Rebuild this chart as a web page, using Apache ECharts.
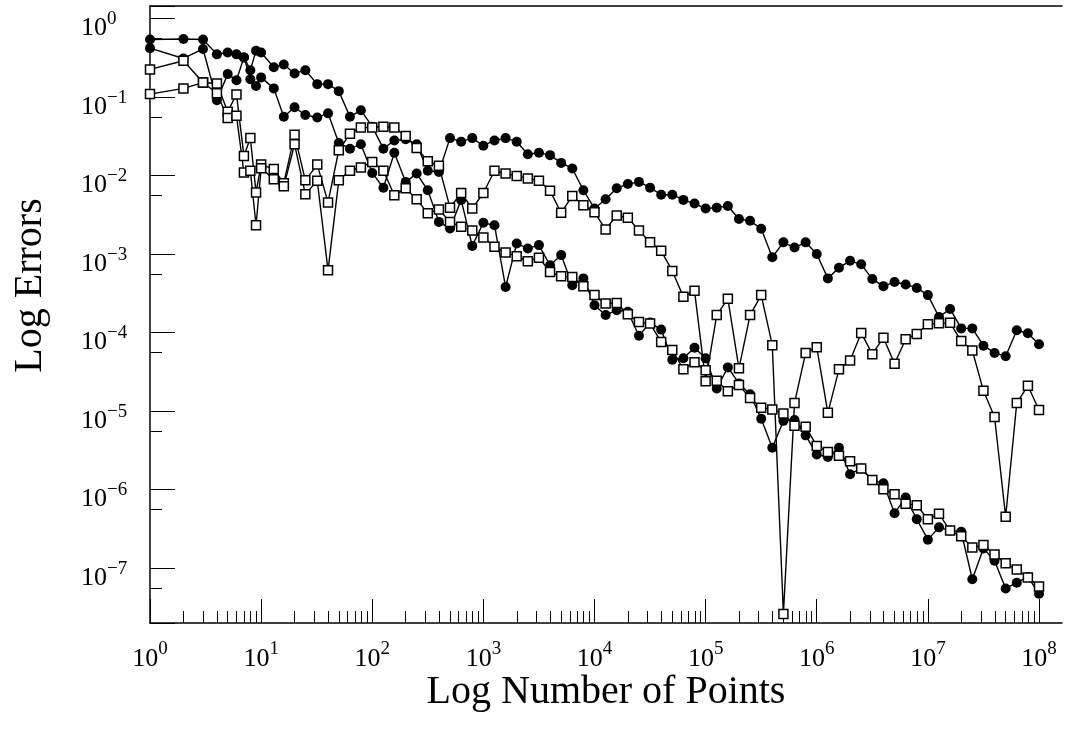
<!DOCTYPE html>
<html>
<head>
<meta charset="utf-8">
<script src="https://cdn.jsdelivr.net/npm/echarts@6/dist/echarts.min.js"></script>
<style>
  html, body { margin: 0; padding: 0; background: #fff; }
  #chart { width: 1072px; height: 740px; }
</style>
</head>
<body>
<div id="chart"></div>
<script>
// Number of points at which each error was measured
const nPoints = [1, 2, 3, 4, 5, 6, 7, 8, 9, 10,
  13, 16, 20, 25, 32, 40, 50, 63, 79, 100,
  126, 158, 200, 251, 316, 398, 501, 631, 794, 1000,
  1259, 1585, 1995, 2512, 3162, 3981, 5012, 6310, 7943, 10000,
  12589, 15849, 19953, 25119, 31623, 39811, 50119, 63096, 79433, 100000,
  125893, 158489, 199526, 251189, 316228, 398107, 501187, 630957, 794328, 1000000,
  1258925, 1584893, 1995262, 2511886, 3162278, 3981072, 5011872, 6309573, 7943282, 10000000,
  12589254, 15848932, 19952623, 25118864, 31622777, 39810717, 50118723, 63095734, 79432823, 100000000];

// Errors, filled-circle curves
const errA = [0.54, 0.55, 0.54, 0.35, 0.37, 0.35, 0.32, 0.22, 0.39, 0.37,
  0.24, 0.26, 0.20, 0.22, 0.146, 0.146, 0.119, 0.056, 0.068, 0.042,
  0.022, 0.028, 0.029, 0.025, 0.0115, 0.0111, 0.030, 0.027, 0.030, 0.024,
  0.028, 0.030, 0.027, 0.0187, 0.0195, 0.0182, 0.0145, 0.0123, 6.5e-3, 3.8e-3,
  5.0e-3, 6.9e-3, 7.8e-3, 8.3e-3, 7.0e-3, 5.7e-3, 5.7e-3, 4.9e-3, 4.4e-3, 3.8e-3,
  3.9e-3, 4.1e-3, 2.8e-3, 2.65e-3, 2.1e-3, 9.1e-4, 1.41e-3, 1.21e-3, 1.41e-3, 1.0e-3,
  4.9e-4, 6.7e-4, 8.2e-4, 7.4e-4, 4.8e-4, 3.9e-4, 4.4e-4, 4.1e-4, 3.7e-4, 3.0e-4,
  1.58e-4, 2.0e-4, 1.13e-4, 1.13e-4, 6.8e-5, 5.5e-5, 5.0e-5, 1.07e-4, 9.8e-5, 7.1e-5];

const errB = [0.42, 0.31, 0.41, 0.091, 0.196, 0.164, 0.32, 0.169, 0.138, 0.178,
  0.129, 0.056, 0.074, 0.059, 0.055, 0.062, 0.026, 0.022, 0.025, 0.0108,
  7.0e-3, 0.0195, 8.3e-3, 0.0106, 6.5e-3, 2.57e-3, 2.12e-3, 4.9e-3, 1.27e-3, 2.5e-3,
  2.33e-3, 3.8e-4, 1.36e-3, 1.18e-3, 1.30e-3, 7.2e-4, 9.7e-4, 4.0e-4, 4.9e-4, 2.23e-4,
  1.67e-4, 1.93e-4, 1.84e-4, 9.1e-5, 1.34e-4, 1.09e-4, 4.5e-5, 4.7e-5, 6.4e-5, 4.7e-5,
  1.94e-5, 3.6e-5, 2.25e-5, 1.64e-5, 8.0e-6, 3.4e-6, 7.5e-6, 7.7e-6, 4.9e-6, 2.8e-6,
  2.6e-6, 3.4e-6, 1.57e-6, 1.86e-6, 1.32e-6, 1.20e-6, 5.0e-7, 7.9e-7, 4.2e-7, 2.3e-7,
  3.3e-7, 3.0e-7, 2.9e-7, 7.2e-8, 1.78e-7, 1.24e-7, 5.5e-8, 6.5e-8, 7.7e-8, 4.7e-8];

// Errors, open-square curves
const errC = [0.225, 0.29, 0.153, 0.149, 0.065, 0.108, 0.0178, 0.030, 6.1e-3, 0.0138,
  0.0121, 8.0e-3, 0.033, 8.7e-3, 0.0138, 4.55e-3, 0.021, 0.034, 0.041, 0.041,
  0.042, 0.041, 0.032, 0.0225, 0.0152, 0.0133, 3.9e-3, 6.0e-3, 3.8e-3, 6.0e-3,
  0.0115, 0.0106, 9.9e-3, 9.2e-3, 8.6e-3, 6.4e-3, 3.35e-3, 5.5e-3, 4.2e-3, 3.4e-3,
  2.06e-3, 3.1e-3, 2.9e-3, 2.0e-3, 1.41e-3, 1.10e-3, 6.1e-4, 2.85e-4, 3.4e-4, 2.4e-5,
  1.67e-4, 2.7e-4, 3.5e-5, 1.67e-4, 3.0e-4, 6.9e-5, 2.6e-8, 1.27e-5, 5.5e-5, 6.5e-5,
  9.5e-6, 3.4e-5, 4.4e-5, 9.9e-5, 5.3e-5, 8.6e-5, 4.0e-5, 8.2e-5, 9.6e-5, 1.28e-4,
  1.31e-4, 1.33e-4, 7.8e-5, 5.9e-5, 1.81e-5, 8.4e-6, 4.5e-7, 1.27e-5, 2.1e-5, 1.03e-5];

const errD = [0.109, 0.129, 0.153, 0.112, 0.054, 0.058, 0.0109, 0.0115, 2.33e-3, 0.0124,
  9.0e-3, 7.3e-3, 0.025, 5.8e-3, 8.6e-3, 6.2e-4, 8.7e-3, 0.0115, 0.0127, 0.0149,
  0.0115, 5.6e-3, 6.9e-3, 5.0e-3, 3.3e-3, 3.7e-3, 2.57e-3, 2.22e-3, 2.0e-3, 1.63e-3,
  1.24e-3, 1.05e-3, 9.4e-4, 8.1e-4, 9.0e-4, 5.9e-4, 5.2e-4, 5.1e-4, 3.9e-4, 3.0e-4,
  2.34e-4, 2.38e-4, 1.71e-4, 1.36e-4, 1.30e-4, 7.6e-5, 6.0e-5, 3.4e-5, 4.2e-5, 3.3e-5,
  2.43e-5, 1.79e-5, 2.14e-5, 1.47e-5, 1.10e-5, 1.05e-5, 9.3e-6, 6.5e-6, 6.3e-6, 3.6e-6,
  3.0e-6, 2.7e-6, 2.3e-6, 1.86e-6, 1.32e-6, 1.01e-6, 8.7e-7, 6.6e-7, 6.3e-7, 4.2e-7,
  4.9e-7, 3.0e-7, 2.55e-7, 1.83e-7, 1.96e-7, 1.49e-7, 1.15e-7, 9.6e-8, 7.6e-8, 5.8e-8];

// Axis ranges
const xMin = 1, xMax = 1e8;
const yMinExp = -7.7, yMaxExp = 0.16;
// minor x ticks sit at m * 10^k
const xMinorMultipliers = [2, 3, 4, 5, 6, 7, 8, 9];
// short y ticks sit this many decades below each power of ten
const yShortTickOffset = 0.255;

const FONT = "'Liberation Serif', 'Times New Roman', serif";
const INK = '#000';

const plotLeft = 150, plotTop = 6, plotBottom = 117;
const plotWidth = 889;      // 10^0 .. 10^8
const frameWidth = 912;     // axis line / top border run a little further right

// "10" with the exponent raised; negative exponents use a typographic minus
function powerLabel(v) {
  const e = Math.log10(v);
  const r = Math.round(e);
  if (Math.abs(e - r) > 1e-6) return '';
  const exp = r < 0 ? '\u2212' + (-r) : String(r);
  return '{b|10}{e|' + exp + '}';
}
const labelRich = {
  b: { fontFamily: FONT, fontSize: 26, lineHeight: 38, color: INK },
  e: { fontFamily: FONT, fontSize: 19, lineHeight: 20, verticalAlign: 'top', color: INK }
};

const xAxes = [];
const yAxes = [];

// main x axis: data, decade ticks and labels
xAxes.push({
  gridIndex: 1, type: 'log', min: xMin, max: xMax, position: 'bottom',
  axisLine: { show: false },
  axisTick: { show: true, inside: true, length: 24, lineStyle: { color: INK, width: 1 } },
  axisLabel: { show: true, margin: 17, formatter: powerLabel, rich: labelRich },
  splitLine: { show: false }, minorTick: { show: false }
});
// minor x ticks (2..9 in every decade)
xMinorMultipliers.forEach(function (m) {
  xAxes.push({
    gridIndex: 1, type: 'log', min: xMin / m, max: xMax / m, position: 'bottom', offset: 0,
    axisLine: { show: false },
    axisTick: { show: true, inside: true, length: 12, lineStyle: { color: INK, width: 1 } },
    axisLabel: { show: false }, splitLine: { show: false }
  });
});
// frame: bottom axis line with title, and top border
xAxes.push({
  gridIndex: 0, type: 'value', min: 0, max: 1, position: 'bottom',
  axisLine: { show: true, lineStyle: { color: INK, width: 1.5 } },
  axisTick: { show: false }, axisLabel: { show: false }, splitLine: { show: false },
  name: 'Log Number of Points', nameLocation: 'middle', nameGap: 49,
  nameTextStyle: { fontFamily: FONT, fontSize: 40, color: INK }
});
xAxes.push({
  gridIndex: 0, type: 'value', min: 0, max: 1, position: 'top',
  axisLine: { show: true, lineStyle: { color: INK, width: 1.5 } },
  axisTick: { show: false }, axisLabel: { show: false }, splitLine: { show: false }
});

// main y axis: data, decade ticks, labels, title
yAxes.push({
  gridIndex: 1, type: 'log', min: Math.pow(10, yMinExp), max: Math.pow(10, yMaxExp), position: 'left',
  axisLine: { show: true, lineStyle: { color: INK, width: 1.5 } },
  axisTick: { show: true, inside: true, length: 25, lineStyle: { color: INK, width: 1 } },
  axisLabel: { show: true, margin: 69, align: 'left', padding: [20, 0, 0, 0],
    formatter: powerLabel, rich: labelRich },
  splitLine: { show: false },
  name: 'Log Errors', nameLocation: 'middle', nameGap: 100,
  nameTextStyle: { fontFamily: FONT, fontSize: 40, color: INK, padding: [0, 0, 0, 58] }
});
// short y ticks below each decade
yAxes.push({
  gridIndex: 1, type: 'log', position: 'left', offset: 0,
  min: Math.pow(10, yMinExp + yShortTickOffset), max: Math.pow(10, yMaxExp + yShortTickOffset),
  axisLine: { show: false },
  axisTick: { show: true, inside: true, length: 12, lineStyle: { color: INK, width: 1 } },
  axisLabel: { show: false }, splitLine: { show: false }
});
yAxes.push({ gridIndex: 0, type: 'value', min: 0, max: 1, show: false });

function pairs(ys) { return nPoints.map(function (n, i) { return [n, ys[i]]; }); }

const circleStyle = {
  type: 'line', xAxisIndex: 0, yAxisIndex: 0,
  symbol: 'circle', symbolSize: 10, showAllSymbol: true,
  lineStyle: { color: INK, width: 1.4 },
  itemStyle: { color: INK, borderColor: INK, borderWidth: 0 },
  emphasis: { disabled: true }
};
const squareStyle = {
  type: 'line', xAxisIndex: 0, yAxisIndex: 0,
  symbol: 'rect', symbolSize: 9, showAllSymbol: true,
  lineStyle: { color: INK, width: 1.4 },
  itemStyle: { color: '#fff', borderColor: INK, borderWidth: 1.5 },
  emphasis: { disabled: true }
};

const chart = echarts.init(document.getElementById('chart'), null, { renderer: 'canvas' });
chart.setOption({
  animation: false,
  backgroundColor: '#fff',
  grid: [
    { left: plotLeft, top: plotTop, width: frameWidth, bottom: plotBottom },
    { left: plotLeft, top: plotTop, width: plotWidth, bottom: plotBottom }
  ],
  xAxis: xAxes,
  yAxis: yAxes,
  series: [
    Object.assign({ name: 'A', data: pairs(errA) }, circleStyle),
    Object.assign({ name: 'B', data: pairs(errB) }, circleStyle),
    Object.assign({ name: 'C', data: pairs(errC) }, squareStyle),
    Object.assign({ name: 'D', data: pairs(errD) }, squareStyle)
  ]
});
</script>
</body>
</html>
